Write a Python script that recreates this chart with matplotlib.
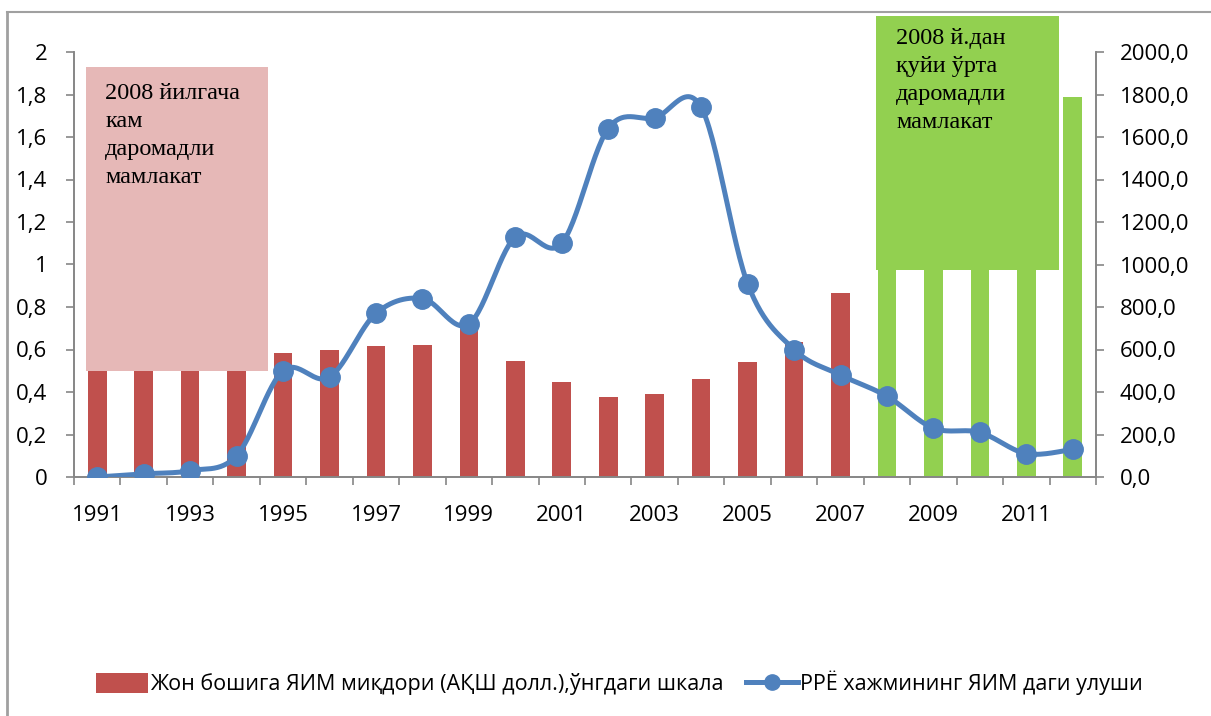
import numpy as np
import matplotlib
matplotlib.use('Agg')
import matplotlib.pyplot as plt
from matplotlib.patches import Rectangle, Patch
from matplotlib.lines import Line2D
import matplotlib.ticker as ticker

years = list(range(1991, 2013))
# GDP per capita, USD (right axis); 1991-1994 and 2008-2011 tops are hidden behind the boxes
gdp = [650, 610, 590, 560, 583, 598, 616, 621, 705, 546, 447, 376, 391, 461, 543, 637, 866,
       1020, 1180, 1380, 1550, 1788]
# share of PPE volume in GDP (left axis)
share = [0.0, 0.015, 0.03, 0.10, 0.50, 0.47, 0.77, 0.84, 0.72, 1.13, 1.10, 1.64, 1.69, 1.74,
         0.91, 0.60, 0.48, 0.38, 0.23, 0.21, 0.11, 0.13]
low_label = '2008 йилгача\nкам\nдаромадли\nмамлакат'
mid_label = '2008 й.дан\nқуйи ўрта\nдаромадли\nмамлакат'
bar_label = 'Жон бошига ЯИМ миқдори (АҚШ долл.),ўнгдаги шкала'
line_label = 'PPË хажмининг ЯИМ даги улуши'

RED = '#C0504D'
GREEN = '#92D050'
BLUE = '#4F81BD'
PINK = '#E6B8B7'
GREY = '#868686'
SANS = ['Open Sans', 'Noto Sans', 'DejaVu Sans']
SERIF = ['Liberation Serif', 'DejaVu Serif']


def smooth(x, y, n=30):
    # Excel-style smoothed line (Catmull-Rom as cubic Bezier)
    p = np.column_stack([x, y]).astype(float)
    p = np.vstack([p[0], p, p[-1]])
    out = []
    t = np.linspace(0, 1, n)[:, None]
    for i in range(1, len(p) - 2):
        p0, p1, p2, p3 = p[i - 1], p[i], p[i + 1], p[i + 2]
        c1 = p1 + (p2 - p0) / 6
        c2 = p2 - (p3 - p1) / 6
        seg = (1 - t) ** 3 * p1 + 3 * (1 - t) ** 2 * t * c1 + 3 * (1 - t) * t ** 2 * c2 + t ** 3 * p2
        out.append(seg)
    out = np.vstack(out)
    return out[:, 0], out[:, 1]


def main():
    fig = plt.figure(figsize=(12.11, 7.16), dpi=100)
    ax1 = fig.add_axes([74 / 1211, 1 - 477 / 716, (1096 - 74) / 1211, (477 - 52) / 716])
    ax2 = ax1.twinx()

    colors = [RED if y < 2008 else GREEN for y in years]
    ax1.bar(years, gdp, width=0.4, color=colors, zorder=2)
    ax1.set_ylim(0, 2000)
    ax1.set_xlim(1990.5, 2012.5)
    ax1.yaxis.tick_right()
    ax1.yaxis.set_major_locator(ticker.MultipleLocator(200))
    ax1.yaxis.set_major_formatter(ticker.FuncFormatter(lambda v, p: f'{v:.1f}'.replace('.', ',')))

    ax2.set_ylim(0, 2)
    ax2.yaxis.tick_left()
    ax2.yaxis.set_major_locator(ticker.MultipleLocator(0.2))
    ax2.yaxis.set_major_formatter(ticker.FuncFormatter(lambda v, p: f'{v:.1f}'.rstrip('0').rstrip('.').replace('.', ',')))

    # shaded boxes
    ax2.add_patch(Rectangle((1990.76, 0.5), 1994.68 - 1990.76, 1.93 - 0.5, facecolor=PINK,
                            edgecolor='none', zorder=1))
    ax2.add_patch(Rectangle((2007.77, 0.975), 2011.71 - 2007.77, 2.17 - 0.975, facecolor=GREEN,
                            edgecolor='none', zorder=1, clip_on=False))
    ax2.text(1991.17, 1.855, low_label, family=SERIF, fontsize=17.5, va='top', ha='left',
             linespacing=1.45, zorder=3)
    ax2.text(2008.2, 2.115, mid_label, family=SERIF, fontsize=17.5, va='top', ha='left',
             linespacing=1.45, zorder=3, clip_on=False)

    sx, sy = smooth(years, share)
    ax2.plot(sx, sy, color=BLUE, lw=3.6, zorder=4, solid_capstyle='round')
    ax2.plot(years, share, 'o', color=BLUE, ms=14, zorder=5)

    # x axis: labels every other year, ticks between categories
    ax1.set_xticks(years[::2])
    ax1.set_xticks(np.arange(1990.5, 2013, 1), minor=True)
    ax1.tick_params(axis='x', which='major', length=0, pad=20)
    ax1.tick_params(axis='x', which='minor', length=6, width=1.2, color=GREY, direction='out')
    for ax in (ax1, ax2):
        for s in ax.spines.values():
            s.set_color(GREY)
            s.set_linewidth(1.2)
        ax.spines['top'].set_visible(False)
        ax.tick_params(axis='y', length=6, width=1.2, color=GREY)
        ax.tick_params(labelsize=16)
        for lab in ax.get_xticklabels() + ax.get_yticklabels():
            lab.set_family(SANS)
    ax1.tick_params(axis='y', labelleft=False, labelright=True, left=False, right=True, pad=11)
    ax2.tick_params(axis='y', labelleft=True, labelright=False, left=True, right=False, pad=13)

    handles = [Patch(facecolor=RED, edgecolor='none'),
               Line2D([], [], color=BLUE, lw=3.6, marker='o', ms=11)]
    fig.legend(handles, [bar_label, line_label], loc='center',
               bbox_to_anchor=(0.5 + 14 / 1211, 1 - 683 / 716),
               ncol=2, frameon=False, prop={'family': SANS, 'size': 15.5}, handlelength=2.4,
               handleheight=1.0, handletextpad=0.1, columnspacing=1.05)

    # chart border
    fig.add_artist(Line2D([7 / 1211, 7 / 1211], [0, 1 - 12 / 716], color='#A0A0A0', lw=2))
    fig.add_artist(Line2D([7 / 1211, 1], [1 - 12 / 716, 1 - 12 / 716], color='#A0A0A0', lw=1.5))

    fig.savefig('out.png', dpi=100)


if __name__ == '__main__':
    main()
